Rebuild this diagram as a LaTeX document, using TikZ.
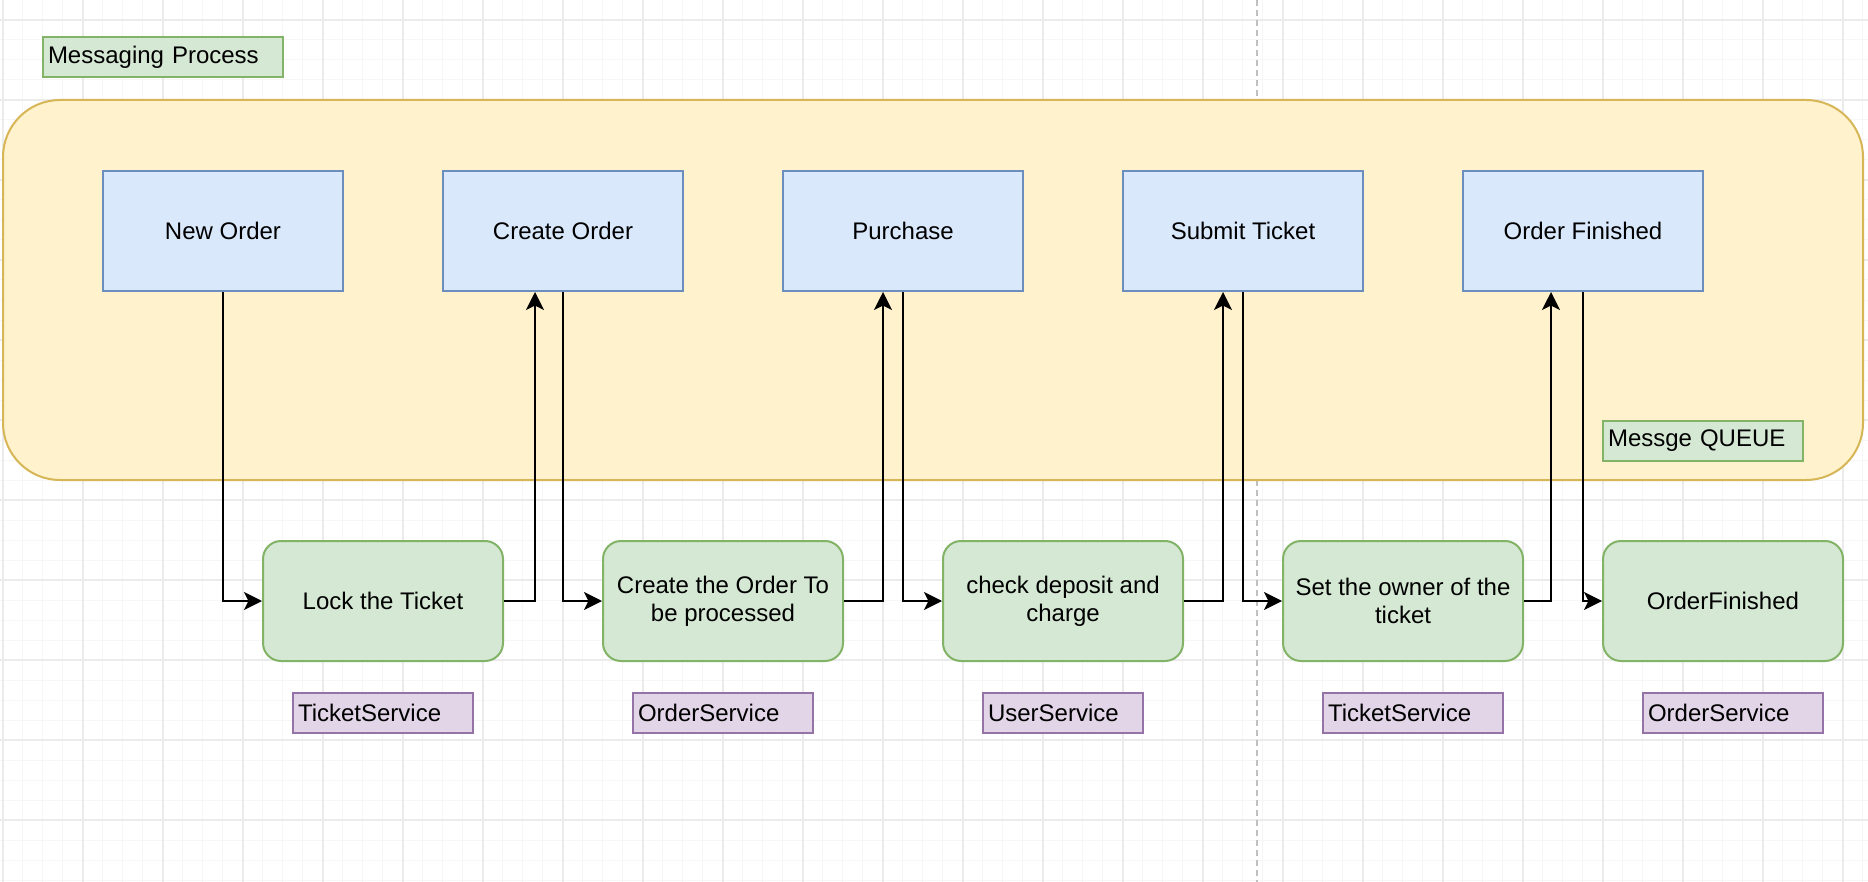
\documentclass[tikz,border=0pt]{standalone}
\usepackage{fontspec}
\setmainfont{Liberation Sans}
\usetikzlibrary{arrows.meta}
\definecolor{bluefill}{HTML}{DAE8FC}
\definecolor{blueline}{HTML}{6C8EBF}
\definecolor{greenfill}{HTML}{D5E8D4}
\definecolor{greenline}{HTML}{82B366}
\definecolor{yellowfill}{HTML}{FFF2CC}
\definecolor{yellowline}{HTML}{D6B656}
\definecolor{purplefill}{HTML}{E1D5E7}
\definecolor{purpleline}{HTML}{9673A6}
\definecolor{gridminor}{HTML}{F6F6F6}
\definecolor{gridmajor}{HTML}{EBEBEB}
\definecolor{dashgray}{HTML}{C0C0C0}
\begin{document}
\begin{tikzpicture}[x=0.5pt,y=-0.5pt,
  font=\fontsize{12}{14}\selectfont,
  minorgrid/.style={draw=gridminor, line width=0.5pt},
  majorgrid/.style={draw=gridmajor, line width=1pt},
  pagebreak/.style={draw=dashgray, line width=1pt, dash pattern=on 3pt off 2pt},
  container/.style={draw=yellowline, fill=yellowfill, line width=1pt, rounded corners=28.5pt, minimum width=930pt, minimum height=190pt, inner sep=0pt},
  bluebox/.style={draw=blueline, fill=bluefill, line width=1pt, minimum width=120pt, minimum height=60pt, inner sep=0pt, align=center},
  greenbox/.style={draw=greenline, fill=greenfill, line width=1pt, rounded corners=9pt, minimum width=120pt, minimum height=60pt, inner sep=0pt, align=center},
  svclabel/.style={draw=purpleline, fill=purplefill, line width=1pt, minimum height=20pt, text width=85pt, inner xsep=2.5pt, inner ysep=0pt, align=left},
  taglabel/.style={draw=greenline, fill=greenfill, line width=1pt, minimum height=20pt, inner xsep=2.5pt, inner ysep=0pt, align=left},
  arr/.style={draw=black, line width=1pt, -{Stealth[length=9pt,width=9pt,inset=2.2pt]}}
]
\useasboundingbox (0,0) rectangle (1868,882);
\fill[white] (0,0) rectangle (1868,882);
% grid
\foreach \gx in {2.7,22.7,...,1868} { \draw[minorgrid] (\gx,0) -- (\gx,882); }
\foreach \gy in {0,20,...,882} { \draw[minorgrid] (0,\gy) -- (1868,\gy); }
\foreach \gx in {2.7,82.7,...,1868} { \draw[majorgrid] (\gx,0) -- (\gx,882); }
\foreach \gy in {20,100,...,882} { \draw[majorgrid] (0,\gy) -- (1868,\gy); }
% page break line
\draw[pagebreak] (1256.7,0) -- (1256.7,882);

% container
\node[container] (Q) at (933,290) {};

% labels
\node[taglabel, text width=115pt] (MP) at (163,57) {Messaging Process};
\node[taglabel, text width=95pt] (MQ) at (1703,441) {Messge QUEUE};

% queue topics
\node[bluebox] (NO) at (223,231) {New Order};
\node[bluebox] (CO) at (563,231) {Create Order};
\node[bluebox] (PU) at (903,231) {Purchase};
\node[bluebox] (ST) at (1243,231) {Submit Ticket};
\node[bluebox] (OF) at (1583,231) {Order Finished};

% steps
\node[greenbox] (LT) at (383,601) {Lock the Ticket};
\node[greenbox] (CR) at (723,601) {Create the Order To\\be processed};
\node[greenbox] (CD) at (1063,601) {check deposit and\\charge};
\node[greenbox] (SO) at (1403,601) {Set the owner of the\\ticket};
\node[greenbox] (FN) at (1723,601) {OrderFinished};

% services
\node[svclabel] (S1) at (383,713) {TicketService};
\node[svclabel] (S2) at (723,713) {OrderService};
\node[svclabel, text width=75pt] (S3) at (1063,713) {UserService};
\node[svclabel] (S4) at (1413,713) {TicketService};
\node[svclabel] (S5) at (1733,713) {OrderService};

% connectors
\draw[arr] (NO.south) |- (LT.west);
\draw[arr] (LT.east) -| ([xshift=-14pt]CO.south);
\draw[arr] (CO.south) |- (CR.west);
\draw[arr] (CR.east) -| ([xshift=-10pt]PU.south);
\draw[arr] (PU.south) |- (CD.west);
\draw[arr] (CD.east) -| ([xshift=-10pt]ST.south);
\draw[arr] (ST.south) |- (SO.west);
\draw[arr] (SO.east) -| ([xshift=-16pt]OF.south);
\draw[arr] (OF.south) |- (FN.west);
\end{tikzpicture}
\end{document}
